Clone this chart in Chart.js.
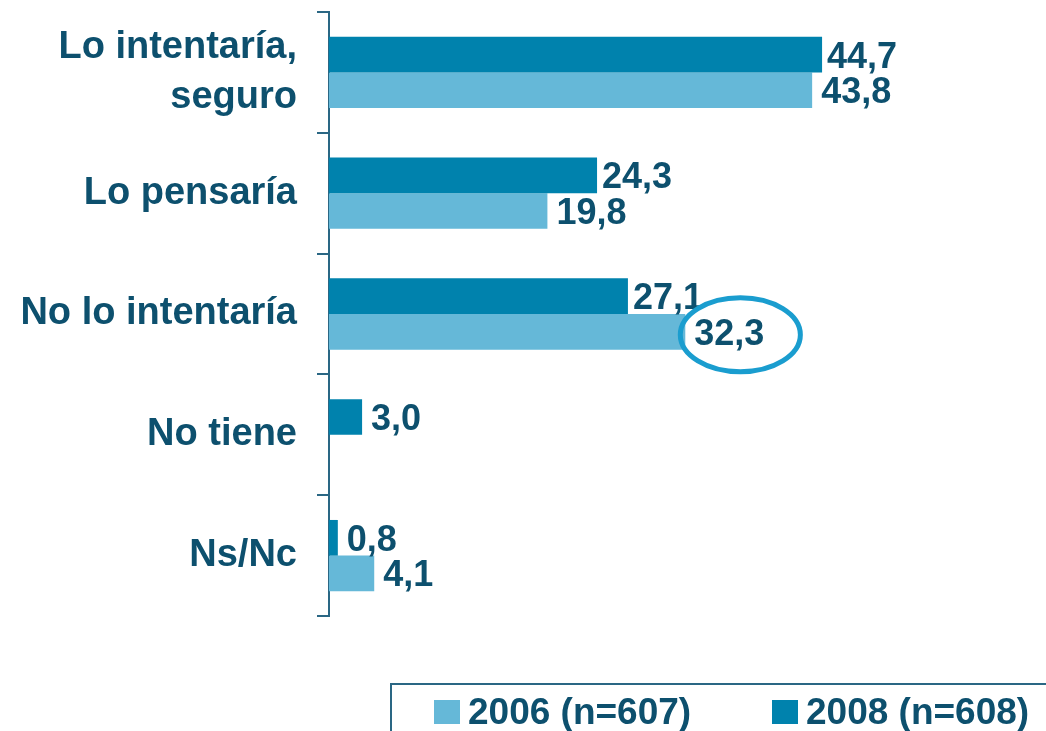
<!DOCTYPE html>
<html>
<head>
<meta charset="utf-8">
<script src="https://cdn.jsdelivr.net/npm/chart.js@4/dist/chart.umd.min.js"></script>
<style>
    html, body { margin: 0; padding: 0; background: #fff; overflow: hidden; }
    #wrap { position: relative; width: 1046px; height: 731px; }
    #legend {
        position: absolute; left: 390px; top: 683px; width: 720px; height: 100px;
        border: 2px solid #2a6784; box-sizing: border-box;
        font: bold 37px "Liberation Sans", Arial, sans-serif; color: #0d506e;
    }
    #legend .item { position: absolute; top: 7px; display: flex; align-items: center; height: 40px; white-space: nowrap; }
    #legend .box { width: 26px; height: 24px; margin-right: 8px; }
</style>
</head>
<body>
<div id="wrap">
    <canvas id="chart" width="1046" height="731"></canvas>
    <div id="legend"></div>
</div>
<script>
const categories = [["Lo intentaría,", "seguro"], "Lo pensaría", "No lo intentaría", "No tiene", "Ns/Nc"];
const values2008 = [44.7, 24.3, 27.1, 3.0, 0.8];
const values2006 = [43.8, 19.8, 32.3, null, 4.1];
const seriesNames = ["2008 (n=608)", "2006 (n=607)"];
const highlight = { dataset: 1, index: 2 }; // circled value

const textColor = "#0d506e";
const axisColor = "#2a6784";
const fontFamily = '"Liberation Sans", Arial, sans-serif';

// value labels next to each bar, decimal comma
const valueLabels = {
    id: "valueLabels",
    afterDatasetsDraw(chart) {
        let ctx = chart.ctx;
        ctx.save();
        ctx.font = "bold 36px " + fontFamily;
        ctx.fillStyle = textColor;
        ctx.textBaseline = "middle";
        ctx.textAlign = "left";
        chart.data.datasets.forEach((ds, i) => {
            chart.getDatasetMeta(i).data.forEach((bar, j) => {
                let v = ds.data[j];
                if (v === null) return;
                let gap = i === 0 && v > 20 ? 5 : 9;
                ctx.fillText(v.toFixed(1).replace(".", ","), bar.x + gap, bar.y + 3);
            });
        });
        ctx.restore();
    },
    afterDraw(chart) {
        // ellipse around the highlighted value
        let ctx = chart.ctx;
        let bar = chart.getDatasetMeta(highlight.dataset).data[highlight.index];
        let v = chart.data.datasets[highlight.dataset].data[highlight.index];
        ctx.save();
        ctx.font = "bold 36px " + fontFamily;
        let w = ctx.measureText(v.toFixed(1).replace(".", ",")).width;
        ctx.strokeStyle = "#1a9dcf";
        ctx.lineWidth = 5;
        ctx.beginPath();
        ctx.ellipse(bar.x + 9 + w / 2 + 11, bar.y + 3, w / 2 + 25, 37, 0, 0, Math.PI * 2);
        ctx.stroke();
        ctx.restore();
    }
};

// legend as html, built from the datasets
const htmlLegend = {
    id: "htmlLegend",
    afterUpdate(chart) {
        let el = document.getElementById("legend");
        el.innerHTML = "";
        let offsets = [42, 380];
        chart.data.datasets.slice().reverse().forEach((ds, k) => {
            let item = document.createElement("div");
            item.className = "item";
            item.style.left = offsets[k] + "px";
            let box = document.createElement("span");
            box.className = "box";
            box.style.background = ds.backgroundColor;
            item.appendChild(box);
            item.appendChild(document.createTextNode(ds.label));
            el.appendChild(item);
        });
    }
};

new Chart(document.getElementById("chart"), {
    type: "bar",
    data: {
        labels: categories,
        datasets: [
            {
                label: seriesNames[0],
                backgroundColor: "#0082ad",
                data: values2008,
                categoryPercentage: 0.59,
                barPercentage: 1
            },
            {
                label: seriesNames[1],
                backgroundColor: "#65b8d8",
                data: values2006,
                categoryPercentage: 0.59,
                barPercentage: 1
            }
        ]
    },
    options: {
        indexAxis: "y",
        responsive: false,
        animation: false,
        layout: { padding: { top: 12, bottom: 115, left: 0, right: 0 } },
        plugins: {
            legend: { display: false },
            tooltip: { enabled: false }
        },
        scales: {
            x: { display: false, min: 0, max: 65 },
            y: {
                afterFit: s => { s.width = 329; s.paddingTop = 0; s.paddingBottom = 0; },
                border: { display: true, color: axisColor, width: 2 },
                grid: {
                    offset: true,
                    drawOnChartArea: false,
                    drawTicks: true,
                    tickLength: 12,
                    color: axisColor,
                    lineWidth: 2
                },
                ticks: {
                    padding: 20,
                    color: textColor,
                    font: { family: fontFamily, size: 38, weight: "bold", lineHeight: 1.32 }
                }
            }
        }
    },
    plugins: [valueLabels, htmlLegend]
});
</script>
</body>
</html>
